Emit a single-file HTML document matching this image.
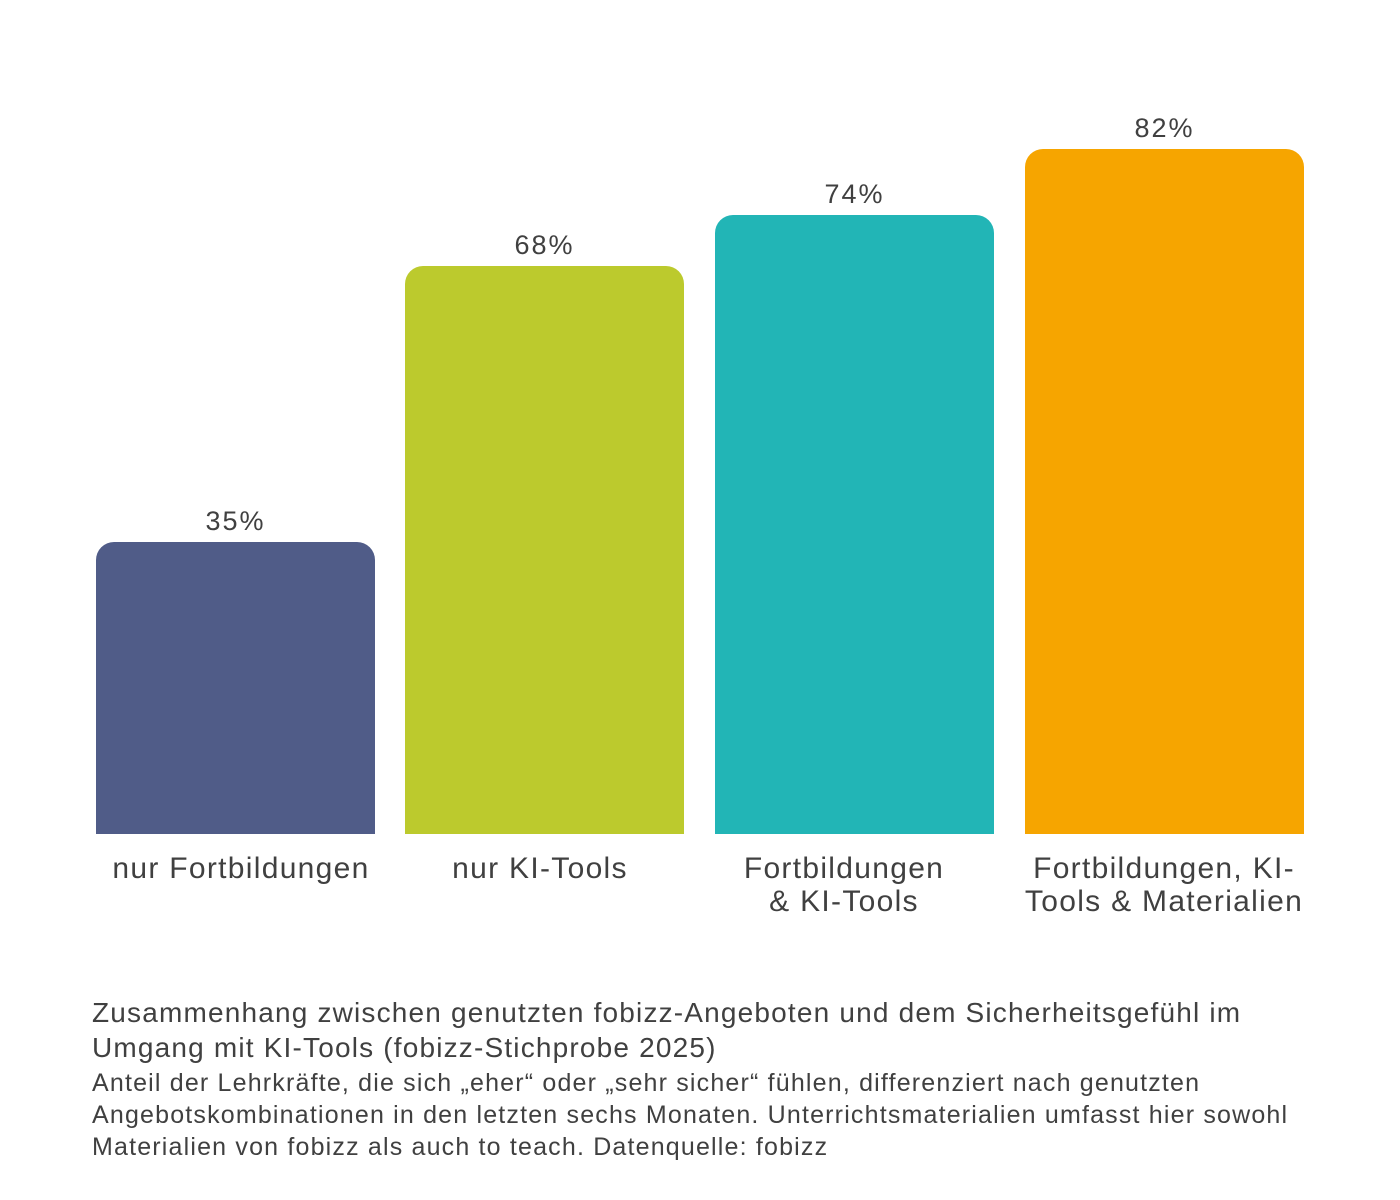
<!DOCTYPE html>
<html><head><meta charset="utf-8"><style>
body{margin:0;background:#fff;width:1400px;height:1200px;position:relative;font-family:"Liberation Sans",sans-serif;color:#404040;overflow:hidden}
.bar{position:absolute;width:279px;bottom:366px;border-radius:18px 18px 0 0}
.v{position:absolute;width:279px;text-align:center;font-size:27px;line-height:30px;letter-spacing:2px}
.c{position:absolute;width:360px;text-align:center;font-size:30px;line-height:33px;letter-spacing:1.3px}
.t{position:absolute;left:92px;font-size:28px;line-height:35px;width:1300px;letter-spacing:1.18px}
.s{position:absolute;left:92px;font-size:25px;line-height:32px;width:1300px;letter-spacing:1.18px}
</style></head><body>
<div class="bar" style="left:96px;top:542px;background:#505C88"></div>
<div class="bar" style="left:405px;top:266px;background:#BCCA2D"></div>
<div class="bar" style="left:715px;top:215px;background:#22B5B6"></div>
<div class="bar" style="left:1025px;top:149px;background:#F6A500"></div>
<div class="v" style="left:96px;top:506px">35%</div>
<div class="v" style="left:405px;top:230px">68%</div>
<div class="v" style="left:715px;top:179px">74%</div>
<div class="v" style="left:1025px;top:113px">82%</div>
<div class="c" style="left:61px;top:852px">nur Fortbildungen</div>
<div class="c" style="left:360px;top:852px">nur KI-Tools</div>
<div class="c" style="left:664px;top:852px">Fortbildungen<br>&amp; KI-Tools</div>
<div class="c" style="left:984px;top:852px">Fortbildungen, KI-<br>Tools &amp; Materialien</div>
<div class="t" style="top:995px">Zusammenhang zwischen genutzten fobizz-Angeboten und dem Sicherheitsgefühl im<br>Umgang mit KI-Tools (fobizz-Stichprobe 2025)</div>
<div class="s" style="top:1067px">Anteil der Lehrkräfte, die sich „eher“ oder „sehr sicher“ fühlen, differenziert nach genutzten<br>Angebotskombinationen in den letzten sechs Monaten. Unterrichtsmaterialien umfasst hier sowohl<br>Materialien von fobizz als auch to teach. Datenquelle: fobizz</div>
</body></html>
